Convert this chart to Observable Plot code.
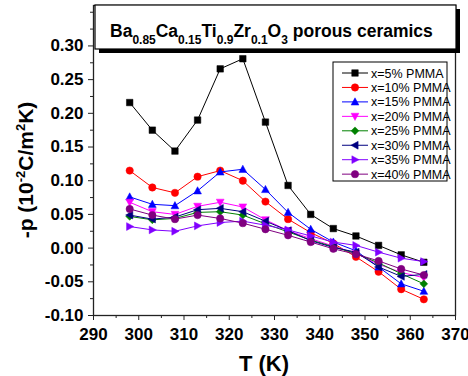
<!DOCTYPE html>
<html><head><meta charset="utf-8">
<script src="https://cdn.jsdelivr.net/npm/d3@7"></script>
<script src="https://cdn.jsdelivr.net/npm/@observablehq/plot@0.6"></script>
<style>
body{margin:0;background:#fff}
#chart svg{display:block}
#chart g[aria-label$="tick label"] text{font-weight:bold}
</style>
</head><body><div id="chart"></div>
<script>
const temps = [298,303,308,313,318,323,328,333,338,343,348,353,358,363];
const seriesNames = ["x=5% PMMA","x=10% PMMA","x=15% PMMA","x=20% PMMA","x=25% PMMA","x=30% PMMA","x=35% PMMA","x=40% PMMA"];
const s5  = [0.216,0.175,0.144,0.190,0.266,0.281,0.187,0.093,0.050,0.029,0.018,0.004,-0.010,-0.021];
const s10 = [0.115,0.090,0.082,0.106,0.115,0.100,0.069,0.043,0.023,0.007,-0.013,-0.035,-0.061,-0.076];
const s15 = [0.076,0.065,0.063,0.085,0.113,0.117,0.087,0.053,0.028,0.009,-0.004,-0.028,-0.053,-0.064];
const s20 = [0.068,0.054,0.050,0.062,0.068,0.061,0.042,0.026,0.014,0.003,-0.008,-0.024,-0.036,-0.044];
const s25 = [0.047,0.042,0.044,0.053,0.054,0.049,0.036,0.024,0.012,0.002,-0.008,-0.022,-0.038,-0.053];
const s30 = [0.049,0.043,0.046,0.057,0.059,0.054,0.040,0.026,0.011,0.001,-0.006,-0.028,-0.042,-0.039];
const s35 = [0.032,0.027,0.025,0.033,0.038,0.040,0.034,0.027,0.018,0.009,0.004,-0.006,-0.015,-0.020];
const s40 = [0.058,0.049,0.043,0.049,0.044,0.037,0.028,0.019,0.009,-0.001,-0.009,-0.019,-0.031,-0.040];
const seriesValues = [s5,s10,s15,s20,s25,s30,s35,s40];
const colors = ["#000000","#ff0000","#0000ff","#ff00ff","#008000","#000080","#8000ff","#800080"];
const xTicks = [290,300,310,320,330,340,350,360,370];
const xMinor = [295,305,315,325,335,345,355,365];
const yTicks = [-0.10,-0.05,0.00,0.05,0.10,0.15,0.20,0.25,0.30];
const yMinor = [-0.075,-0.025,0.025,0.075,0.125,0.175,0.225,0.275,0.325,0.35];

// custom symbols
function tri(dir){
  return {draw(ctx, size){
    const h = Math.sqrt(size)*0.55;
    let pts = [[0,-h*1.05],[h,h*0.8],[-h,h*0.8]];
    if(dir==="down") pts = pts.map(([x,y])=>[x,-y]);
    if(dir==="left") pts = pts.map(([x,y])=>[y,x]);
    if(dir==="right") pts = pts.map(([x,y])=>[-y,x]);
    ctx.moveTo(pts[0][0],pts[0][1]); ctx.lineTo(pts[1][0],pts[1][1]); ctx.lineTo(pts[2][0],pts[2][1]); ctx.closePath();
  }};
}
const sq = {draw(ctx,size){const h=Math.sqrt(size)*0.46;ctx.rect(-h,-h,2*h,2*h);}};
const circ = {draw(ctx,size){const r=Math.sqrt(size)*0.52;ctx.moveTo(r,0);ctx.arc(0,0,r,0,2*Math.PI);}};
const dia = {draw(ctx,size){const h=Math.sqrt(size)*0.55;ctx.moveTo(0,-h);ctx.lineTo(h,0);ctx.lineTo(0,h);ctx.lineTo(-h,0);ctx.closePath();}};
const symbols = [sq, circ, tri("up"), tri("down"), dia, tri("left"), tri("right"), circ];

const rows = [];
seriesValues.forEach((vals,i)=>vals.forEach((v,j)=>rows.push({series:seriesNames[i], T:temps[j], p:v, i})));

const marks = [
  Plot.axisX({ticks: xTicks, tickSize: 5, tickPadding: 7, tickFormat: d=>String(d), fontSize: 17, fontWeight: "bold", stroke:"#222"}),
  Plot.axisX({ticks: xMinor, tickSize: 3, text: null, stroke:"#222"}),
  Plot.axisY({ticks: yTicks, tickSize: 5, tickPadding: 5, tickFormat: d=>d.toFixed(2), fontSize: 17, fontWeight: "bold", stroke:"#222"}),
  Plot.axisY({ticks: yMinor, tickSize: 3, text: null, stroke:"#222"})
];
seriesNames.forEach((name,i)=>{
  const data = rows.filter(r=>r.i===i);
  marks.push(Plot.line(data,{x:"T",y:"p",stroke:colors[i],strokeWidth:1}));
  marks.push(Plot.dot(data,{x:"T",y:"p",fill:colors[i],stroke:colors[i],strokeWidth:0.5,symbol:symbols[i],r:4}));
});
marks.push(Plot.frame({stroke:"#222",strokeWidth:1.3}));

const plot = Plot.plot({
  width: 468, height: 376,
  marginLeft: 93, marginRight: 13, marginTop: 5, marginBottom: 61,
  style: {fontFamily: "'Liberation Sans', Arial, sans-serif", background: "white", color:"#000"},
  x: {domain: [290, 370], label: null},
  y: {domain: [-0.1, 0.36], label: null},
  marks
});
document.getElementById("chart").appendChild(plot);

const svg = d3.select(plot);
const ff = "'Liberation Sans', Arial, sans-serif";

// title box
const tb = svg.append("g").attr("text-anchor","start");
tb.append("rect").attr("x",99).attr("y",9).attr("width",361).attr("height",44).attr("fill","#000");
tb.append("rect").attr("x",95).attr("y",5).attr("width",361).attr("height",44).attr("fill","#fff").attr("stroke","#000").attr("stroke-width",1.2);
const tt = tb.append("text").attr("x",110).attr("y",37).attr("text-anchor","start").attr("font-family",ff).attr("font-weight","bold").attr("font-size",17.5);
const parts = [["Ba",0],["0.85",1],["Ca",0],["0.15",1],["Ti",0],["0.9",1],["Zr",0],["0.1",1],["O",0],["3",1],[" porous ceramics",0]];
let prevSub = false;
parts.forEach(([t,sub])=>{
  const ts = tt.append("tspan").text(t);
  if(sub){ts.attr("font-size",12).attr("dy", prevSub?0:7);}
  else if(prevSub){ts.attr("dy",-7);}
  prevSub = !!sub;
});

// legend
const lg = svg.append("g").attr("text-anchor","start");
lg.append("rect").attr("x",333).attr("y",62).attr("width",114).attr("height",119).attr("fill","#fff").attr("stroke","#000").attr("stroke-width",1);
seriesNames.forEach((name,i)=>{
  const cy = 73 + i*14.45;
  lg.append("line").attr("x1",342).attr("x2",368).attr("y1",cy).attr("y2",cy).attr("stroke",colors[i]).attr("stroke-width",1);
  const p = d3.path(); symbols[i].draw(p, Math.PI*16);
  lg.append("path").attr("d",p.toString()).attr("transform",`translate(355,${cy})`).attr("fill",colors[i]).attr("stroke",colors[i]).attr("stroke-width",0.5);
  lg.append("text").attr("x",371).attr("y",cy).attr("dy","0.36em").attr("text-anchor","start").attr("font-family",ff).attr("font-size",12.5).text(name);
});

// axis titles
svg.append("text").attr("x",264).attr("y",371).attr("text-anchor","middle").attr("font-family",ff).attr("font-weight","bold").attr("font-size",22).text("T (K)");
const yl = svg.append("text").attr("transform","translate(33,170) rotate(-90)").attr("text-anchor","middle").attr("font-family",ff).attr("font-weight","bold").attr("font-size",21);
yl.append("tspan").text("-p (10");
yl.append("tspan").text("-2").attr("font-size",13).attr("dy",-8);
yl.append("tspan").text("C/m").attr("dy",8);
yl.append("tspan").text("2").attr("font-size",13).attr("dy",-8);
yl.append("tspan").text("K)").attr("dy",8);
</script>
</body></html>
